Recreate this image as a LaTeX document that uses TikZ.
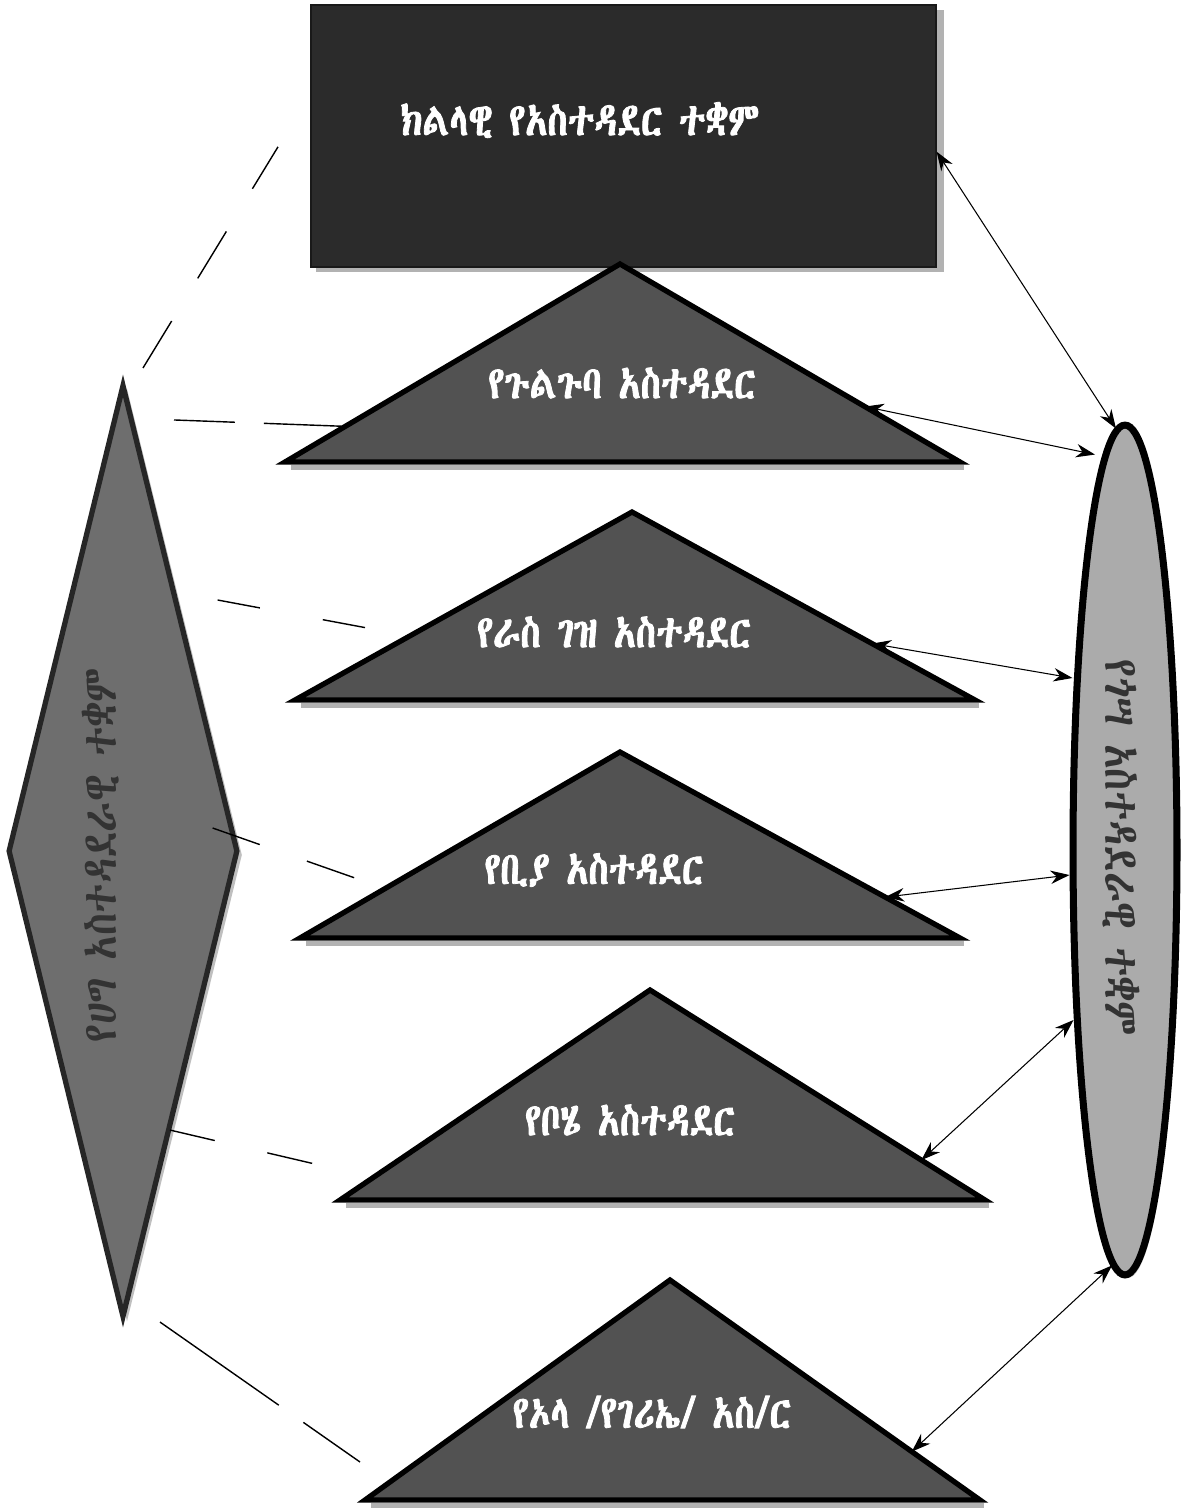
\documentclass[tikz,border=0pt]{standalone}
\usepackage{fontspec}
\usetikzlibrary{arrows.meta,positioning,calc,shapes.geometric}
\IfFontExistsTF{Abyssinica SIL}{\def\ethname{Abyssinica SIL}}{%
 \IfFontExistsTF{FreeSerif}{\def\ethname{FreeSerif}}{%
  \IfFontExistsTF{Ethiopia Jiret}{\def\ethname{Ethiopia Jiret}}{%
   \IfFontExistsTF{GFZemenu}{\def\ethname{GFZemenu}}{\def\ethname{DejaVu Sans}}}}}
\newfontfamily\ethfont[FakeBold=1.8,FakeStretch=0.8]{\ethname}
\newfontfamily\ethlight[FakeStretch=0.85]{\ethname}

\begin{document}
\begin{tikzpicture}[x=0.02cm,y=-0.02cm,
  tri/.style={draw=black, line width=3pt, line join=miter, fill=black!68},
  lbl/.style={font=\ethfont\fontsize{26}{28}\selectfont, text=white, inner sep=0pt},
  side/.style={font=\ethlight\fontsize{27}{30}\selectfont, text=black!80, inner sep=0pt},
  link/.style={line width=0.8pt, dash pattern=on 1.1cm off 1cm},
  arr/.style={{Stealth[length=3.8mm,width=2.7mm]}-{Stealth[length=3.8mm,width=2.7mm]}, line width=0.6pt}]
	\useasboundingbox (0,0) rectangle (1190,1508);
	% top box
	\fill[black!30] (316,10) rectangle (944,272);
	\node[draw=black!90, line width=1pt, fill=black!83, minimum width=12.5cm, minimum height=5.24cm, anchor=north west] (reg) at (310,4) {};
	\node[lbl] (regt) at (580,120) {ክልላዊ የአስተዳደር ተቋም};
	% the five triangles
	\foreach \n/\ax/\ay/\lx/\rx/\by in {A/620/264/285/960/462, B/632/512/295/975/700, C/620/752/300/960/938, D/650/990/340/985/1200, E/670/1280/365/980/1500}{
		\fill[black!30] (\lx+6,\by+3) rectangle (\rx+4,\by+8);
		\draw[tri] (\lx,\by) -- (\ax,\ay) -- (\rx,\by) -- cycle;
		\coordinate (\n-l) at (\lx,\by);
		\coordinate (\n-a) at (\ax,\ay);
		\coordinate (\n-r) at (\rx,\by);}
	\node[lbl] (gul) at (622,383) {የጉልጉባ አስተዳደር};
	\node[lbl] (ras) at (614,632) {የራስ ገዝ አስተዳደር};
	\node[lbl] (bia) at (594,870) {የቢያ አስተዳደር};
	\node[lbl] (boh) at (630,1120) {የቦሄ አስተዳደር};
	\node[lbl] (ola) at (652,1412) {የኦላ /የገሪኤ/ አስ/ር};
	% left diamond
	\node[diamond, fill=black!25, minimum width=4.6cm, minimum height=18.66cm, inner sep=0pt] at (127,855) {};
	\node[diamond, draw=black!85, line width=3pt, fill=black!57, minimum width=4.6cm, minimum height=18.66cm, inner sep=0pt] (hig) at (123,851) {};
	\node[side, rotate=90] (higt) at (101,855) {የሀግ አስተዳደራዊ ተቋም};
	% right ellipse
	\node[ellipse, fill=black!20, minimum width=2.08cm, minimum height=17cm] at (1128,853) {};
	\node[ellipse, draw=black, line width=4pt, fill=black!33, minimum width=2.08cm, minimum height=17cm] (gos) at (1125,850) {};
	\node[side, rotate=-90] (gost) at (1121,848) {የጎሣ አስተዳደራዊ ተቋም};
	% dashed links
	\draw[link] ($(hig.north)+(20,-14)$) -- ($(reg.west)+(-32,11)$);
	\draw[link, dash pattern=on 1.22cm off 0.58cm on 1.7cm off 0.5cm] ($(hig.north)+(51,38)$) -- ($(A-l)!0.18!(A-a)$);
	\draw[link, dash pattern=on 0.86cm off 1.28cm] ($(hig.east)+(-23,-251)$) -- ($(B-l)+(83,-70)$);
	\draw[link, dash pattern=on 1cm off 1cm] ($(hig.east)+(-28,-23)$) -- ($(C-l)+(55,-60)$);
	\draw[link, dash pattern=on 0.92cm off 1.08cm] ($(hig.south)+(47,-190)$) -- ($(D-l)+(-8,-32)$);
	\draw[link, dash pattern=on 2.9cm off 0.6cm] ($(hig.south)+(37,2)$) -- ($(E-l)+(-5,-38)$);
	% arrows to the ellipse
	\draw[arr] ($(reg.north east)!0.56!(reg.south east)$) -- ($(gos.north)+(-9,7)$);
	\draw[arr] ($(A-a)!0.72!(A-r)$) -- ($(gos.north)+(-30,33)$);
	\draw[arr] ($(B-a)!0.70!(B-r)$) -- ($(gos.west)+(3,-172)$);
	\draw[arr] ($(C-a)!0.78!(C-r)$) -- ($(gos.west)+(0,25)$);
	\draw[arr] ($(D-a)!0.81!(D-r)$) -- ($(gos.west)+(4,170)$);
	\draw[arr] ($(E-a)!0.78!(E-r)$) -- ($(gos.south)+(-13,-13)$);
\end{tikzpicture}
\end{document}
